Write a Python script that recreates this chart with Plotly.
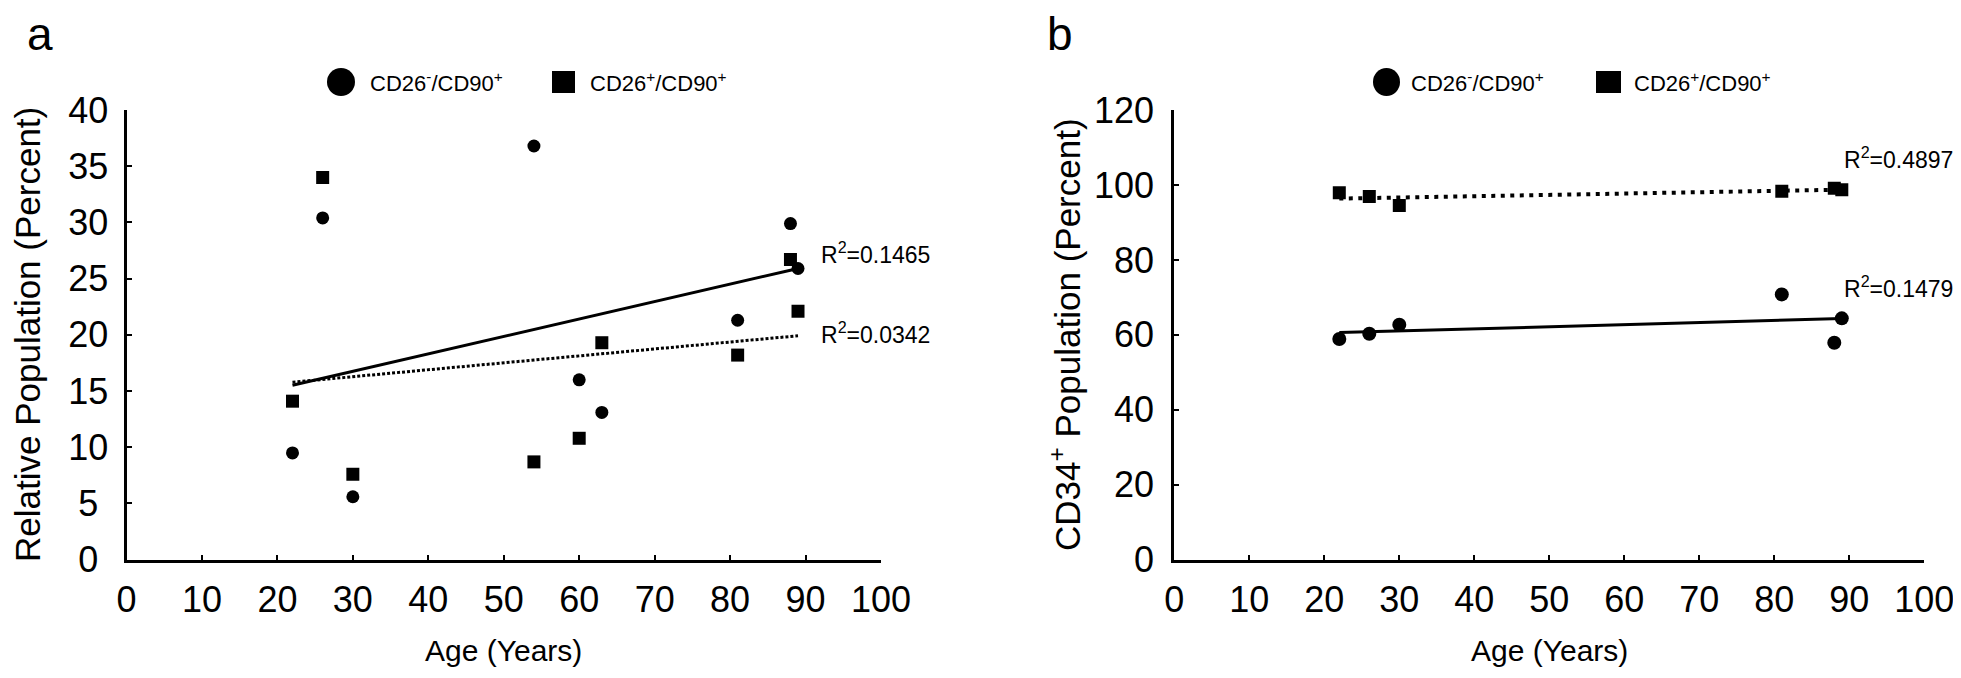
import numpy as np
import plotly.graph_objects as go

# ---------------- data ----------------
# Panel a: relative population (percent) vs age
age_a_neg = [22, 26, 30, 54, 60, 63, 81, 88, 89]
rel_neg = [9.5, 30.4, 5.6, 36.8, 16.0, 13.1, 21.3, 29.9, 25.9]
age_a_pos = [22, 26, 30, 54, 60, 63, 81, 88, 89]
rel_pos = [14.1, 34.0, 7.6, 8.7, 10.8, 19.3, 18.2, 26.7, 22.1]

# Panel b: CD34+ population (percent) vs age
age_b_neg = [22, 26, 30, 81, 88, 89]
cd34_neg = [58.9, 60.3, 62.7, 70.8, 57.9, 64.4]
age_b_pos = [22, 26, 30, 81, 88, 89]
cd34_pos = [97.9, 96.9, 94.5, 98.3, 99.1, 98.7]

series_names = ["CD26<sup>-</sup>/CD90<sup>+</sup>", "CD26<sup>+</sup>/CD90<sup>+</sup>"]
r2_a = ["R<sup>2</sup>=0.1465", "R<sup>2</sup>=0.0342"]
r2_b = ["R<sup>2</sup>=0.4897", "R<sup>2</sup>=0.1479"]

x_ticks = list(range(0, 101, 10))
y_ticks_a = list(range(0, 41, 5))
y_ticks_b = list(range(0, 121, 20))

FONT = "Liberation Sans, Arial, sans-serif"


def trend(x, y):
    k, b = np.polyfit(x, y, 1)
    xs = [min(x), max(x)]
    return xs, [k * v + b for v in xs]


fig = go.Figure()

# ---- panel a trend lines ----
tx, ty = trend(age_a_neg, rel_neg)
fig.add_trace(go.Scatter(x=tx, y=ty, mode="lines", line=dict(color="black", width=3),
                         xaxis="x", yaxis="y", hoverinfo="skip"))
tx, ty = trend(age_a_pos, rel_pos)
fig.add_trace(go.Scatter(x=tx, y=ty, mode="lines",
                         line=dict(color="black", width=3, dash="3px,2px"),
                         xaxis="x", yaxis="y", hoverinfo="skip"))
# ---- panel a points ----
fig.add_trace(go.Scatter(x=age_a_neg, y=rel_neg, mode="markers", name=series_names[0],
                         marker=dict(symbol="circle", size=13, color="black"),
                         xaxis="x", yaxis="y"))
fig.add_trace(go.Scatter(x=age_a_pos, y=rel_pos, mode="markers", name=series_names[1],
                         marker=dict(symbol="square", size=13, color="black"),
                         xaxis="x", yaxis="y"))

# ---- panel b trend lines ----
tx, ty = trend(age_b_neg, cd34_neg)
fig.add_trace(go.Scatter(x=tx, y=ty, mode="lines", line=dict(color="black", width=3),
                         xaxis="x2", yaxis="y2", hoverinfo="skip"))
tx, ty = trend(age_b_pos, cd34_pos)
fig.add_trace(go.Scatter(x=tx, y=ty, mode="lines",
                         line=dict(color="black", width=4, dash="4px,5.5px"),
                         xaxis="x2", yaxis="y2", hoverinfo="skip"))
# ---- panel b points ----
fig.add_trace(go.Scatter(x=age_b_neg, y=cd34_neg, mode="markers", name=series_names[0],
                         marker=dict(symbol="circle", size=14, color="black"),
                         xaxis="x2", yaxis="y2"))
fig.add_trace(go.Scatter(x=age_b_pos, y=cd34_pos, mode="markers", name=series_names[1],
                         marker=dict(symbol="square", size=13, color="black"),
                         xaxis="x2", yaxis="y2"))

# the page body has an 8px margin: the figure starts at (8, 8) in the window
OFF = 8
W, H = 1961 - OFF, 678 - OFF


def px(x):
    return (x - OFF) / W


def py(y):
    return (H - (y - OFF)) / H


ydom = [py(559.7), py(110)]

axis_common = dict(showline=True, linewidth=3, linecolor="black", ticks="inside",
                   ticklen=5, tickwidth=2, tickcolor="black", showgrid=False,
                   zeroline=False, automargin=False,
                   tickfont=dict(family=FONT, size=36, color="black"))

# y labels of panel a are centred: pad single digits with a punctuation space
ytext_a = [f"{v}\u2008" if v < 10 else str(v) for v in y_ticks_a]

fig.update_layout(
    template="none",
    width=W, height=H, autosize=False,
    margin=dict(l=0, r=0, t=0, b=0, pad=0),
    paper_bgcolor="white", plot_bgcolor="white",
    showlegend=False,
    font=dict(family=FONT, color="black"),
    xaxis=dict(domain=[px(126.5), px(881)], range=[0, 100], tickvals=x_ticks,
               anchor="y", ticklabelstandoff=6, ticklabeloverflow="allow", **axis_common),
    yaxis=dict(domain=ydom, range=[0, 40], tickvals=y_ticks_a, ticktext=ytext_a,
               anchor="x", ticklabelstandoff=8, **axis_common),
    xaxis2=dict(domain=[px(1174.3), px(1924.3)], range=[0, 100], tickvals=x_ticks,
                anchor="y2", ticklabelstandoff=6, ticklabeloverflow="allow", **axis_common),
    yaxis2=dict(domain=ydom, range=[0, 120], tickvals=y_ticks_b,
                anchor="x2", ticklabelstandoff=10, **axis_common),
)

shapes = []
ann = []

# ---- manual legends (large symbols) ----
legend_specs = [
    # circle x0,x1, square x0,x1, text1 left, text2 left
    (327, 355, 552, 575, 368, 588),
    (1373, 1400, 1596, 1621, 1409, 1632),
]
for cx0, cx1, sx0, sx1, t1, t2 in legend_specs:
    shapes.append(dict(type="circle", xref="paper", yref="paper",
                       x0=px(cx0), x1=px(cx1), y0=py(96), y1=py(68),
                       fillcolor="black", line=dict(width=0)))
    shapes.append(dict(type="rect", xref="paper", yref="paper",
                       x0=px(sx0), x1=px(sx1), y0=py(93), y1=py(71),
                       fillcolor="black", line=dict(width=0)))
    for t, name in zip((t1, t2), series_names):
        ann.append(dict(text=name, xref="paper", yref="paper", x=px(t), y=py(82),
                        xanchor="left", yanchor="middle", showarrow=False,
                        font=dict(family=FONT, size=22, color="black")))

# ---- R^2 labels ----
for txt, yv in zip(r2_a, (27.3, 20.2)):
    ann.append(dict(text=txt, xref="x", yref="y", x=91.8, y=yv, xanchor="left",
                    yanchor="middle", showarrow=False,
                    font=dict(family=FONT, size=23, color="black")))
for txt, yv in zip(r2_b, (107.3, 72.8)):
    ann.append(dict(text=txt, xref="x2", yref="y2", x=89.0, y=yv, xanchor="left",
                    yanchor="middle", showarrow=False,
                    font=dict(family=FONT, size=23, color="black")))

# ---- axis titles ----
ann.append(dict(text="Relative Population (Percent)", xref="paper", yref="paper",
                x=px(27), y=py(335), textangle=-90, showarrow=False,
                xanchor="center", yanchor="middle",
                font=dict(family=FONT, size=35, color="black")))
ann.append(dict(text="CD34<sup>+</sup> Population (Percent)", xref="paper", yref="paper",
                x=px(1065), y=py(335), textangle=-90, showarrow=False,
                xanchor="center", yanchor="middle",
                font=dict(family=FONT, size=35, color="black")))
ann.append(dict(text="Age (Years)", xref="x", yref="paper", x=50, y=py(650),
                showarrow=False, xanchor="center", yanchor="middle",
                font=dict(family=FONT, size=30, color="black")))
ann.append(dict(text="Age (Years)", xref="x2", yref="paper", x=50, y=py(650),
                showarrow=False, xanchor="center", yanchor="middle",
                font=dict(family=FONT, size=30, color="black")))

# ---- panel letters ----
ann.append(dict(text="a", xref="paper", yref="paper", x=px(40), y=py(34),
                showarrow=False, xanchor="center", yanchor="middle",
                font=dict(family=FONT, size=46, color="black")))
ann.append(dict(text="b", xref="paper", yref="paper", x=px(1060), y=py(34),
                showarrow=False, xanchor="center", yanchor="middle",
                font=dict(family=FONT, size=46, color="black")))

fig.update_layout(shapes=shapes, annotations=ann)
fig.write_html("out.html")
